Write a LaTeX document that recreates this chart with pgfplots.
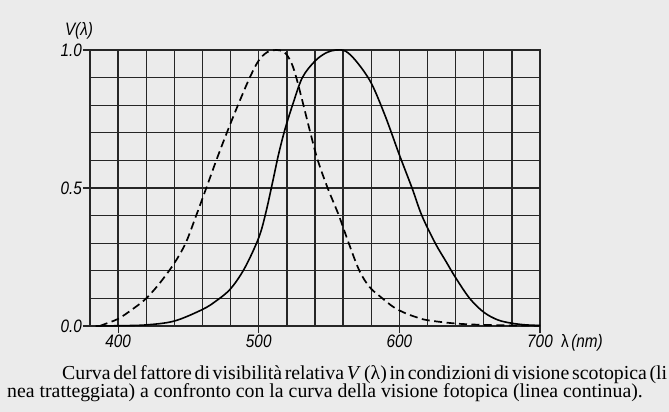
\documentclass[border=0pt]{standalone}
\usepackage{fontspec}
\setmainfont{Liberation Serif}
\newfontfamily\lab{Liberation Sans}
\usepackage{graphicx}
\usepackage{pgfplots}
\pgfplotsset{compat=1.18}
\newcommand{\tl}[1]{\scalebox{0.85}[1]{\lab\itshape\fontsize{18}{20}\selectfont #1}}
\begin{document}
\begin{tikzpicture}
\path[use as bounding box] (-90pt,-86pt) rectangle ++(669pt,412pt);
\clip (-90pt,-86pt) rectangle ++(669pt,412pt);
\fill[black!8] (-90pt,-86pt) rectangle ++(669pt,412pt);
\begin{axis}[
  at={(0,0)}, anchor=south west,
  scale only axis, width=450pt, height=276pt,
  xmin=380, xmax=700, ymin=0, ymax=1,
  xtick={380,400,...,700},
  xticklabels={},
  ytick={0,0.1,0.2,0.3,0.4,0.5,0.6,0.7,0.8,0.9,1.0},
  yticklabels={},
  extra x ticks={400,500,600,700},
  extra x tick labels={\tl{400},\tl{500},\tl{600},\tl{700}},
  extra y ticks={0,0.5,1},
  extra y tick labels={\tl{0.0},\tl{0.5},\tl{1.0}},
  extra tick style={grid=none, major tick length=7pt},
  grid=major,
  major grid style={black!85, line width=1.3pt},
  axis line style={black!85, line width=1.4pt},
  tick pos=left, tick align=outside,
  major tick length=0pt,
  tick style={black!85, line width=1.1pt},
  xticklabel style={inner sep=1pt, yshift=-1pt},
  yticklabel style={inner sep=1pt},
  clip=false,
]
\addplot[black, line width=1.7pt, smooth, tension=0.55, dash pattern=on 8pt off 4.5pt] coordinates {
(387,0) (390,0.006) (400,0.026) (410,0.06) (420,0.10) (430,0.158) (440,0.228)
(448,0.30) (455.5,0.40) (462.7,0.50) (469.8,0.60) (477.3,0.70) (485.2,0.80)
(493.6,0.90) (500,0.962) (506,0.992) (512.5,1.0) (517,0.995) (520,0.982)
(523.5,0.95) (526.7,0.90) (531.8,0.80) (536.7,0.70) (542,0.60) (549,0.50)
(557,0.40) (564,0.30) (571.6,0.20) (579,0.14) (588,0.10) (596,0.068)
(604,0.047) (612,0.032) (620,0.021) (640,0.009) (660,0.004) (680,0.002) (700,0.001)
};
\addplot[black, line width=1.6pt, smooth, tension=0.55] coordinates {
(384,0) (400,0.001) (420,0.004) (440,0.018) (460,0.06) (470,0.092)
(480,0.135) (490,0.21) (500,0.32) (505,0.41) (510,0.525) (514,0.62)
(518.5,0.71) (524,0.80) (531,0.90) (540,0.96) (548,0.99) (555,1.0)
(562,0.995) (570,0.955) (580,0.88) (590,0.76) (600,0.62) (609,0.50)
(616,0.40) (625.5,0.30) (633,0.235) (640,0.175) (650,0.10) (660,0.05)
(670,0.022) (680,0.010) (690,0.004) (700,0.002)
};
\node[anchor=center] at (rel axis cs:1,0) [xshift=42pt, yshift=-17pt]
  {\scalebox{0.85}[1]{\lab\fontsize{18}{20}\selectfont λ\,\itshape(nm)}};
\node[anchor=center] at (rel axis cs:0,1) [xshift=-11pt, yshift=19pt]
  {\tl{V(λ)}};
\end{axis}
\node[anchor=base west, inner sep=0pt] at (-28pt,-53pt)
  {\fontsize{19.8}{22}\selectfont\spaceskip=0.17em plus 0.1em minus 0.06em
   \hbox to 605pt{Curva del fattore di visibilità relativa \textit{V}\,(λ) in condizioni di visione scotopica (li}};
\node[anchor=base west, inner sep=0pt] at (-83pt,-71pt)
  {\fontsize{19.8}{22}\selectfont nea tratteggiata) a confronto con la curva della visione fotopica (linea continua).};
\end{tikzpicture}
\end{document}
